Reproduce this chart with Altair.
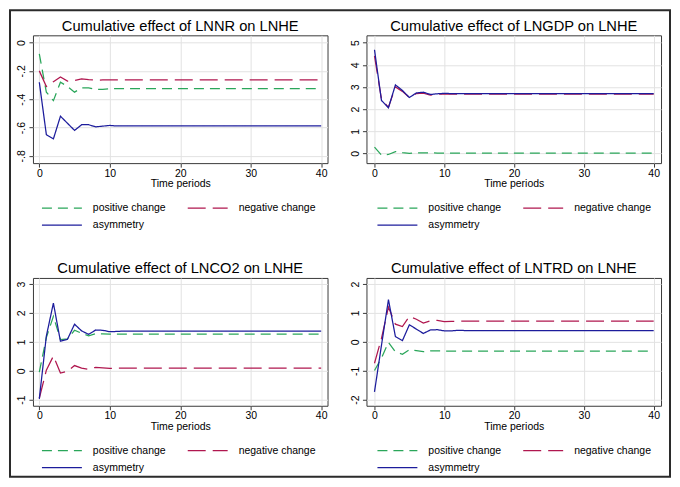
import altair as alt
import pandas as pd

N_PERIODS = 41
periods = list(range(N_PERIODS))
series_names = ["positive change", "negative change", "asymmetry"]
series_colors = ["#2aa65a", "#b0174f", "#1c1c9c"]
series_dashes = [[10, 6], [18, 7], [1, 0]]


def hold(head, plateau):
    # early periods read individually, then the flat plateau value
    return head + [plateau] * (N_PERIODS - len(head))


# Cumulative effect of LNNR on LNHE
nr_pos = hold([-0.08, -0.35, -0.41, -0.28, -0.31, -0.35, -0.32, -0.32, -0.33, -0.33], -0.326)
nr_neg = hold([-0.20, -0.31, -0.276, -0.243, -0.272, -0.268, -0.257, -0.262, -0.265], -0.264)
nr_asym = hold([-0.28, -0.65, -0.68, -0.52, -0.57, -0.62, -0.58, -0.58, -0.595, -0.59, -0.585], -0.589)

# Cumulative effect of LNGDP on LNHE
gdp_pos = hold([0.28, -0.08, -0.05, 0.08, 0.03, 0.00, 0.03, 0.02, 0.02], 0.015)
gdp_neg = hold([4.40, 2.45, 2.08, 3.00, 2.80, 2.52, 2.70, 2.72, 2.63, 2.67, 2.69], 2.68)
gdp_asym = hold([4.68, 2.39, 2.06, 3.09, 2.84, 2.52, 2.73, 2.76, 2.66, 2.69, 2.71], 2.70)

# Cumulative effect of LNCO2 on LNHE
co2_pos = hold([-0.05, 1.15, 1.88, 1.08, 1.10, 1.40, 1.30, 1.21, 1.28, 1.28], 1.265)
co2_neg = hold([-0.95, 0.02, 0.51, -0.08, -0.02, 0.18, 0.09, 0.05, 0.12, 0.10, 0.08], 0.09)
co2_asym = hold([-0.97, 1.20, 2.34, 1.02, 1.09, 1.61, 1.38, 1.26, 1.41, 1.40, 1.35, 1.36], 1.375)

# Cumulative effect of LNTRD on LNHE
trd_pos = hold([-0.99, -0.56, -0.02, -0.35, -0.43, -0.27, -0.30, -0.34, -0.31, -0.31], -0.32)
trd_neg = hold([-0.74, 0.12, 1.20, 0.61, 0.53, 0.88, 0.78, 0.65, 0.73, 0.74, 0.70, 0.71], 0.715)
trd_asym = hold([-1.73, -0.12, 1.46, 0.18, 0.04, 0.59, 0.44, 0.29, 0.41, 0.42, 0.38, 0.38, 0.40], 0.39)

x_ticks = [0, 10, 20, 30, 40]
FONT = "Liberation Sans"

y_label_expr = (
    "datum.value == 0 ? '0' : (datum.value < 0 ? '-' : '') + "
    "(abs(datum.value) < 1 ? substring(toString(abs(datum.value)), 1) : toString(abs(datum.value)))"
)

FRAME_TOP = -25


def panel(title, pos, neg, asym, ydom, yticks, xdom, legend_x, frame=False):
    rows = []
    for name, vals in zip(series_names, [pos, neg, asym]):
        for t, v in zip(periods, vals):
            rows.append({"t": t, "v": v, "s": name})
    df = pd.DataFrame(rows)

    leg = alt.Legend(
        title=None, orient="none", direction="horizontal", legendX=legend_x, legendY=167, columns=2,
        symbolType="stroke", symbolSize=1600, symbolStrokeWidth=1.3, clipHeight=12,
        labelFontSize=10.5, labelFont=FONT, labelColor="black", labelOffset=10,
        columnPadding=21, rowPadding=5, padding=0, symbolOffset=0,
    )
    base = alt.Chart(df).mark_line(strokeWidth=1.25, clip=True).encode(
        x=alt.X("t:Q", scale=alt.Scale(domain=xdom, nice=False, zero=False),
                axis=alt.Axis(values=x_ticks, title="Time periods", format="d")),
        y=alt.Y("v:Q", scale=alt.Scale(domain=ydom, nice=False, zero=False),
                axis=alt.Axis(values=yticks, title=None, labelExpr=y_label_expr,
                              labelAngle=270, labelAlign="center", labelBaseline="bottom",
                              labelPadding=2)),
        color=alt.Color("s:N", scale=alt.Scale(domain=series_names, range=series_colors), legend=leg),
        strokeDash=alt.StrokeDash("s:N", scale=alt.Scale(domain=series_names, range=series_dashes), legend=leg),
    )
    layers = [base.transform_filter(alt.datum.s == name) for name in series_names]
    title_dy = 0
    if frame:
        fr = alt.Chart(pd.DataFrame({"a": [0]})).mark_rect(
            fillOpacity=0, stroke="#2b2b2b", strokeWidth=2
        ).encode(x=alt.value(-23), x2=alt.value(638), y=alt.value(FRAME_TOP), y2=alt.value(442))
        layers = [fr] + layers
        title_dy = -FRAME_TOP + 1
    return alt.layer(*layers).properties(
        width=295, height=128,
        title=alt.TitleParams(title, fontSize=14.7, font=FONT, fontWeight="normal",
                              anchor="middle", offset=2, dy=title_dy, color="black"),
    )


p1 = panel("Cumulative effect of LNNR on LNHE", nr_pos, nr_neg, nr_asym,
           [-0.851, 0.051], [0, -0.2, -0.4, -0.6, -0.8], [-0.9, 40.9], 8, frame=True)
p2 = panel("Cumulative effect of LNGDP on LNHE", gdp_pos, gdp_neg, gdp_asym,
           [-0.44, 5.33], [0, 1, 2, 3, 4, 5], [-1.15, 41.05], 10)
p3 = panel("Cumulative effect of LNCO2 on LNHE", co2_pos, co2_neg, co2_asym,
           [-1.21, 3.21], [-1, 0, 1, 2, 3], [-0.9, 40.9], 8)
p4 = panel("Cumulative effect of LNTRD on LNHE", trd_pos, trd_neg, trd_asym,
           [-2.21, 2.21], [-2, -1, 0, 1, 2], [-1.15, 41.05], 10)

chart = alt.concat(
    p1, p2, p3, p4, columns=2,
    spacing=alt.RowColnumber(row=115, column=39),
    bounds="flush",
).resolve_legend(
    color="independent", strokeDash="independent"
).resolve_scale(
    x="independent", y="independent"
).properties(
    padding=0, background="white"
).configure_view(
    stroke="#3a3a3a", strokeWidth=1
).configure_axis(
    domain=False, tickColor="#3a3a3a", tickSize=4, tickWidth=1,
    grid=True, gridColor="#e2e2e2", gridWidth=1,
    labelFont=FONT, labelFontSize=10.5, labelColor="black", labelPadding=1,
    titleFont=FONT, titleFontSize=10.5, titleColor="black", titleFontWeight="normal",
    titlePadding=0,
)

chart.save("out.html", embed_options={"renderer": "svg", "actions": False})
